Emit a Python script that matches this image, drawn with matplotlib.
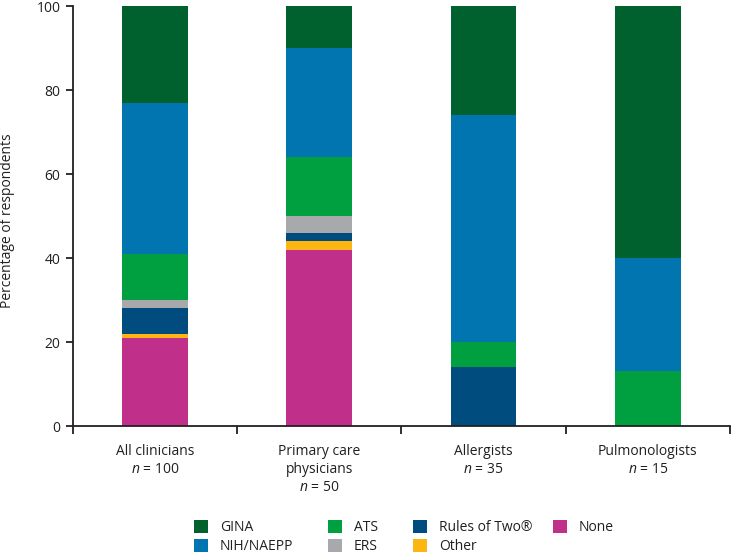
import matplotlib
matplotlib.use("Agg")
import matplotlib.pyplot as plt
import numpy as np

plt.rcParams['font.family'] = ['Open Sans', 'DejaVu Sans']
plt.rcParams['mathtext.fontset'] = 'custom'
plt.rcParams['mathtext.rm'] = 'Open Sans'
plt.rcParams['mathtext.it'] = 'Open Sans:italic'

categories = ["All clinicians\n$n$ = 100",
              "Primary care\nphysicians\n$n$ = 50",
              "Allergists\n$n$ = 35",
              "Pulmonologists\n$n$ = 15"]
series_names = ["None", "Other", "Rules of Two®", "ERS", "ATS", "NIH/NAEPP", "GINA"]
none_vals = [21, 42, 0, 0]
other_vals = [1, 2, 0, 0]
rules_vals = [6, 2, 14, 0]
ers_vals = [2, 4, 0, 0]
ats_vals = [11, 14, 6, 13]
nih_vals = [36, 26, 54, 27]
gina_vals = [23, 10, 26, 60]
colors = ["#c0308a", "#fbb614", "#004c7e", "#a7a9ac", "#00a040", "#0075b0", "#00612f"]
legend_columns = [["GINA", "NIH/NAEPP"], ["ATS", "ERS"], ["Rules of Two®", "Other"], ["None"]]

values = [none_vals, other_vals, rules_vals, ers_vals, ats_vals, nih_vals, gina_vals]
TXT = "#231f20"

fig = plt.figure(figsize=(7.32, 5.56), dpi=100)
ax = fig.add_axes([0.0997, 0.2338, 0.8973, 0.7552])
x = np.arange(len(categories))
bottom = np.zeros(len(categories))
handles = {}
for name, vals, col in zip(series_names, values, colors):
    b = ax.bar(x, vals, width=0.4, bottom=bottom, color=col, label=name, linewidth=0)
    handles[name] = b
    bottom += np.array(vals)

ax.set_xlim(-0.5, 3.5)
ax.set_ylim(0, 100)
ax.set_yticks([0, 20, 40, 60, 80, 100])
ax.set_xticks(x)
ax.set_xticklabels(categories, fontsize=10, color=TXT, linespacing=1.25)
ax.tick_params(axis='x', length=0, pad=13)
ax.set_xticks(np.arange(-0.5, 4.0, 1.0), minor=True)
ax.tick_params(axis='x', which='minor', length=6, width=1.3, direction='out', color=TXT)
ax.tick_params(axis='y', length=5, width=1.3, labelsize=10, colors=TXT, pad=4)
for s in ['top', 'right']:
    ax.spines[s].set_visible(False)
for s in ['left', 'bottom']:
    ax.spines[s].set_linewidth(1.3)
    ax.spines[s].set_color(TXT)
ax.set_ylabel("Percentage of respondents", fontsize=10, color=TXT)
ax.yaxis.set_label_coords(-0.089, 0.49)

col_x = [194, 328, 413, 553]
for cx, names in zip(col_x, legend_columns):
    leg = fig.legend([handles[n] for n in names], names, ncol=1,
                     loc='upper left', bbox_to_anchor=(cx / 732, 0.064),
                     frameon=False, fontsize=10, handlelength=1.0, handleheight=1.0,
                     handletextpad=0.85, labelspacing=0.28,
                     borderaxespad=0, borderpad=0, labelcolor=TXT)
fig.savefig("out.png", dpi=100)
